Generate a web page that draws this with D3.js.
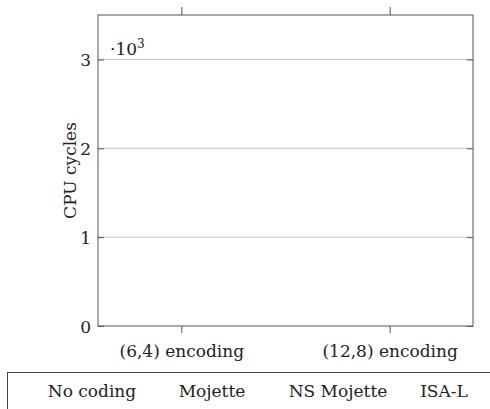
<!DOCTYPE html>
<html>
<head>
<meta charset="utf-8">
<script src="https://cdn.jsdelivr.net/npm/d3@7"></script>
<style>
  body { margin: 0; background: #fff; }
  text { font-family: "DejaVu Serif", serif; fill: #222; }
</style>
</head>
<body>
<div id="chart"></div>
<script>
// categories, series and y ticks (values shown in units of 10^3 cycles)
const categories = ["(6,4) encoding", "(12,8) encoding"];
const seriesNames = ["No coding", "Mojette", "NS Mojette", "ISA-L"];
const seriesValues = [[], [], [], []]; // no bars plotted in the figure
const yTicks = [0, 1, 2, 3];
const yMax = 3.5;

const width = 490, height = 409;
const margin = {left: 98, right: 17, top: 15, bottom: 83};
const fs = 17;

const svg = d3.select("#chart").append("svg")
    .attr("width", width)
    .attr("height", height);

const x = d3.scalePoint()
    .domain(categories)
    .range([margin.left, width - margin.right])
    .padding(0.4);

const y = d3.scaleLinear()
    .domain([0, yMax])
    .range([height - margin.bottom, margin.top]);

// grid
svg.append("g")
    .selectAll("line")
    .data(yTicks.filter(d => d > 0))
    .join("line")
    .attr("x1", margin.left).attr("x2", width - margin.right)
    .attr("y1", d => y(d)).attr("y2", d => y(d))
    .attr("stroke", "#c0c0c0")
    .attr("stroke-width", 1);

// bars (none in this figure)
const bx = d3.scaleBand().domain(seriesNames).range([-40, 40]).padding(0.1);
seriesNames.forEach((s, i) => {
    svg.append("g").selectAll("rect")
        .data(seriesValues[i])
        .join("rect")
        .attr("x", (d, j) => x(categories[j]) + bx(s))
        .attr("width", bx.bandwidth())
        .attr("y", d => y(d))
        .attr("height", d => y(0) - y(d));
});

// axes
const yAxisL = d3.axisLeft(y).tickValues(yTicks).tickSize(-6).tickFormat(d3.format("d"));
const yAxisR = d3.axisRight(y).tickValues(yTicks).tickSize(-6).tickFormat("");
const xAxisB = d3.axisBottom(x).tickSize(7);
const xAxisT = d3.axisTop(x).tickSize(8).tickFormat("");

function style(g) {
    g.select(".domain").remove();
    g.selectAll("line").attr("stroke", "#555");
    g.selectAll("text").attr("font-family", "DejaVu Serif").attr("fill", "#222");
}

svg.append("g").attr("transform", `translate(${margin.left},0)`)
    .call(yAxisL).call(style)
    .call(g => g.selectAll("text").attr("font-size", fs).attr("x", -7).attr("dy", "0.36em"));
svg.append("g").attr("transform", `translate(${width - margin.right},0)`)
    .call(yAxisR).call(style);
svg.append("g").attr("transform", `translate(0,${height - margin.bottom})`)
    .call(xAxisB).call(style)
    .call(g => g.selectAll("text").attr("font-size", fs).attr("y", 31).attr("dy", null));
svg.append("g").attr("transform", `translate(0,${margin.top})`)
    .call(xAxisT).call(style);

// frame
svg.append("rect")
    .attr("x", margin.left).attr("y", margin.top)
    .attr("width", width - margin.left - margin.right)
    .attr("height", height - margin.bottom - margin.top)
    .attr("fill", "none")
    .attr("stroke", "#555");

// scale multiplier
const mult = svg.append("text")
    .attr("x", margin.left + 12).attr("y", margin.top + 40)
    .attr("font-size", fs);
mult.append("tspan").text("·10");
mult.append("tspan").attr("dy", -7).attr("font-size", 12).text("3");

// y label
svg.append("text")
    .attr("transform", `translate(76,${(y(0) + y(yMax)) / 2}) rotate(-90)`)
    .attr("text-anchor", "middle")
    .attr("font-size", fs)
    .text("CPU cycles");

// legend
svg.append("rect")
    .attr("x", 7.5).attr("y", 372.5)
    .attr("width", 520).attr("height", 100)
    .attr("fill", "none")
    .attr("stroke", "#444");

const legendX = [92, 212, 338, 444];
svg.append("g").selectAll("text")
    .data(seriesNames)
    .join("text")
    .attr("x", (d, i) => legendX[i])
    .attr("y", 397)
    .attr("text-anchor", "middle")
    .attr("font-size", fs)
    .text(d => d);
</script>
</body>
</html>
